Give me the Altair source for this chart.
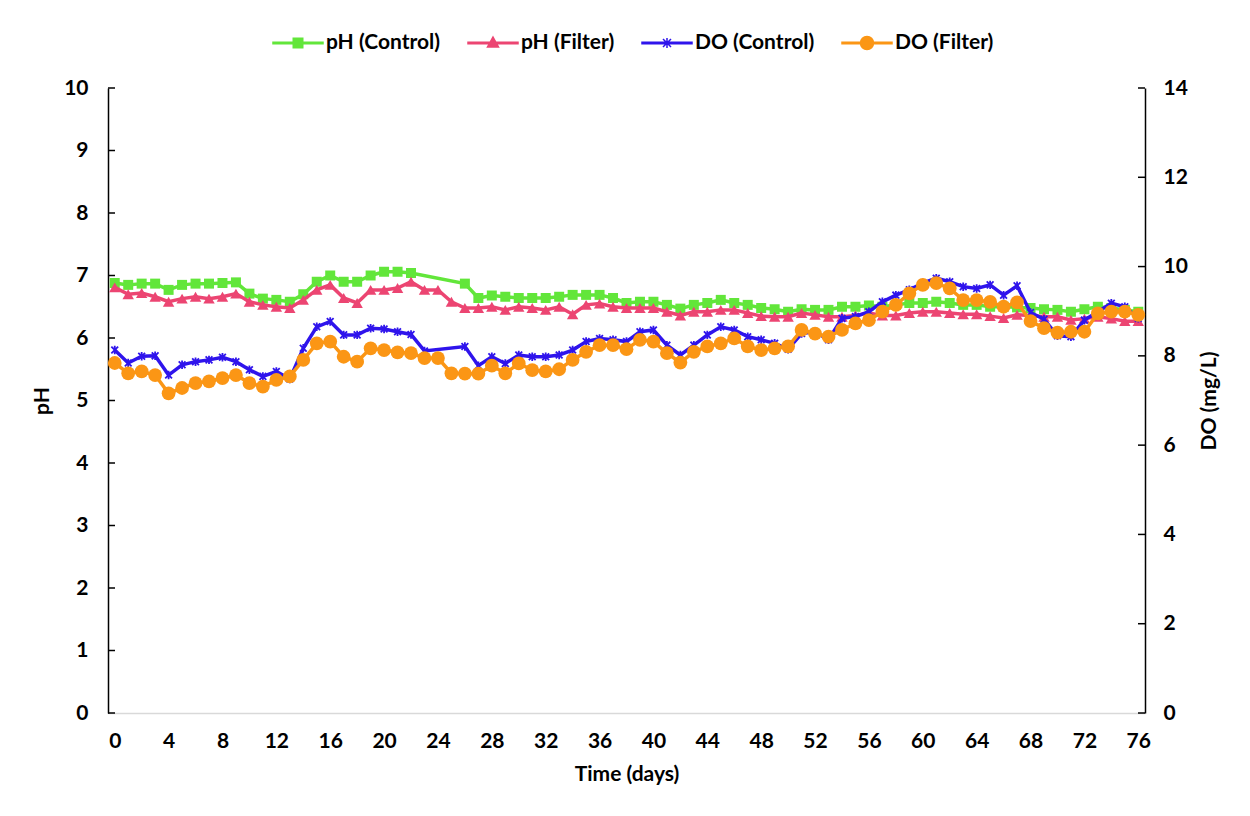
import altair as alt
import pandas as pd

days = list(range(77))

ph_control = [6.88, 6.85, 6.87, 6.87, 6.77, 6.85, 6.87, 6.87, 6.88, 6.89,
              6.71, 6.63, 6.61, 6.58, 6.70, 6.90, 7.00, 6.90, 6.90, 7.00,
              7.06, 7.06, 7.04, None, None, None, 6.87, 6.64, 6.68, 6.66,
              6.64, 6.64, 6.64, 6.66, 6.69, 6.69, 6.69, 6.64, 6.56, 6.58,
              6.58, 6.53, 6.47, 6.53, 6.56, 6.61, 6.56, 6.53, 6.48, 6.46,
              6.42, 6.46, 6.45, 6.45, 6.50, 6.50, 6.52, 6.50, 6.53, 6.56,
              6.56, 6.58, 6.56, 6.53, 6.53, 6.50, 6.50, 6.49, 6.48, 6.46,
              6.45, 6.42, 6.46, 6.50, 6.48, 6.45, 6.42]

ph_filter = [6.81, 6.70, 6.72, 6.66, 6.58, 6.63, 6.66, 6.63, 6.66, 6.71,
             6.58, 6.53, 6.50, 6.48, 6.61, 6.77, 6.85, 6.64, 6.56, 6.77,
             6.77, 6.80, 6.90, 6.77, 6.77, 6.58, 6.48, 6.48, 6.50, 6.45,
             6.50, 6.48, 6.45, 6.50, 6.38, 6.53, 6.55, 6.50, 6.48, 6.48,
             6.48, 6.42, 6.36, 6.42, 6.42, 6.45, 6.45, 6.40, 6.35, 6.34,
             6.34, 6.40, 6.37, 6.34, 6.34, 6.36, 6.40, 6.36, 6.36, 6.40,
             6.42, 6.42, 6.40, 6.38, 6.38, 6.35, 6.32, 6.37, 6.36, 6.34,
             6.34, 6.29, 6.31, 6.34, 6.31, 6.27, 6.27]

do_control = [8.13, 7.84, 7.99, 8.00, 7.57, 7.80, 7.87, 7.91, 7.97, 7.87,
              7.69, 7.54, 7.65, 7.48, 8.17, 8.65, 8.77, 8.47, 8.47, 8.62,
              8.60, 8.54, 8.48, 8.11, None, None, 8.21, 7.78, 7.98, 7.83,
              8.02, 7.98, 7.98, 8.02, 8.13, 8.32, 8.39, 8.36, 8.32, 8.54,
              8.58, 8.24, 8.02, 8.24, 8.47, 8.65, 8.58, 8.43, 8.36, 8.28,
              8.15, 8.50, 8.54, 8.36, 8.84, 8.88, 8.99, 9.21, 9.36, 9.48,
              9.63, 9.74, 9.66, 9.55, 9.51, 9.59, 9.36, 9.57, 8.97, 8.82,
              8.45, 8.43, 8.80, 8.99, 9.18, 9.10, 8.84]

do_filter = [7.84, 7.61, 7.65, 7.57, 7.16, 7.28, 7.39, 7.43, 7.50, 7.57,
             7.39, 7.31, 7.46, 7.54, 7.91, 8.28, 8.32, 7.98, 7.87, 8.17,
             8.13, 8.08, 8.06, 7.95, 7.95, 7.61, 7.60, 7.60, 7.78, 7.61,
             7.83, 7.68, 7.65, 7.70, 7.91, 8.09, 8.24, 8.24, 8.15, 8.36,
             8.32, 8.06, 7.85, 8.09, 8.21, 8.28, 8.39, 8.21, 8.13, 8.17,
             8.21, 8.58, 8.50, 8.43, 8.58, 8.73, 8.80, 8.99, 9.14, 9.40,
             9.59, 9.63, 9.51, 9.25, 9.25, 9.21, 9.10, 9.20, 8.78, 8.62,
             8.52, 8.54, 8.54, 8.95, 8.99, 8.99, 8.92]

series_names = ["pH (Control)", "pH (Filter)", "DO (Control)", "DO (Filter)"]
series_colors = ["#62e63a", "#ec4572", "#2f14ec", "#fb9615"]

x_ticks = list(range(0, 77, 4))
ph_ticks = list(range(0, 11))
do_ticks = list(range(0, 15, 2))

W, H = 1037, 625
FONT = "Lato"
FS = 21

STAR = "M-1,-1L1,1M-1,1L1,-1M0,-1.25L0,1.25"
LEG_LINE = "M-1,-0.03H1V0.03H-1Z"
legend_paths = [
    LEG_LINE + "M-0.19,-0.19H0.19V0.19H-0.19Z",
    LEG_LINE + "M0,-0.24L0.22,0.16H-0.22Z",
    LEG_LINE + "M-0.16,-0.16L0.16,0.16M-0.16,0.16L0.16,-0.16M0,-0.2V0.2",
    LEG_LINE + "M-0.26,0A0.26,0.26,0,1,1,0.26,0A0.26,0.26,0,1,1,-0.26,0Z",
]


def frame(values, name):
    df = pd.DataFrame({"day": days, "value": values, "series": name})
    df["value"] = pd.to_numeric(df["value"])
    return df.dropna()


x_enc = alt.X(
    "day:Q",
    scale=alt.Scale(domain=[-0.5, 76.5], nice=False, zero=False),
    axis=alt.Axis(values=x_ticks, title="Time (days)", grid=False, tickSize=0,
                  domainColor="#d9d9d9", domainWidth=1.5, labelPadding=17,
                  titlePadding=12, labelFlush=False),
)

ph_y = alt.Y(
    "value:Q",
    scale=alt.Scale(domain=[0, 10], nice=False, zero=False),
    axis=alt.Axis(values=ph_ticks, title="pH", orient="left", grid=False,
                  tickSize=0, domainColor="black", domainWidth=1.5,
                  labelPadding=20, titlePadding=11, labelFlush=False),
)

do_y = alt.Y(
    "value:Q",
    scale=alt.Scale(domain=[0, 14], nice=False, zero=False),
    axis=alt.Axis(values=do_ticks, title="DO (mg/L)", orient="right",
                  grid=False, tickSize=0, domainColor="black",
                  domainWidth=1.5, labelPadding=18, titlePadding=32,
                  titleAngle=270, labelFlush=False),
)


def series_layers(values, idx, y_enc, point_kwargs):
    base = alt.Chart(frame(values, series_names[idx]))
    line = base.mark_line(strokeWidth=3.5, color=series_colors[idx]).encode(
        x=x_enc, y=y_enc)
    pts = base.mark_point(color=series_colors[idx], opacity=1,
                          **point_kwargs).encode(x=x_enc, y=y_enc)
    return [line, pts]


ph_tick_df = pd.DataFrame({"value": ph_ticks})
do_tick_df = pd.DataFrame({"value": do_ticks})

ph_inner_ticks = alt.Chart(ph_tick_df).mark_rule(
    color="black", strokeWidth=1.5).encode(
    y=ph_y, x=alt.value(0), x2=alt.value(7))
do_inner_ticks = alt.Chart(do_tick_df).mark_rule(
    color="black", strokeWidth=1.5).encode(
    y=do_y, x=alt.value(W - 7), x2=alt.value(W))

ph_layer = alt.layer(
    ph_inner_ticks,
    *series_layers(ph_control, 0, ph_y,
                   dict(shape="square", filled=True, size=100)),
    *series_layers(ph_filter, 1, ph_y,
                   dict(shape="triangle-up", filled=True, size=130)),
)

do_layer = alt.layer(
    do_inner_ticks,
    *series_layers(do_control, 2, do_y,
                   dict(shape=STAR, filled=False, size=46, strokeWidth=1.8)),
    *series_layers(do_filter, 3, do_y,
                   dict(shape="circle", filled=True, size=190)),
)

legend_def = alt.Legend(
    title=None, orient="none", direction="horizontal", columns=4,
    legendX=164, legendY=-71, symbolSize=2500, symbolStrokeWidth=1.5,
    labelFont=FONT, labelFontSize=FS, labelFontWeight="bold",
    labelColor="black", labelOffset=2, columnPadding=24, symbolOpacity=1,
)

legend_layer = alt.Chart(pd.DataFrame({"series": series_names})).transform_filter(
    "false"
).mark_point(filled=True, strokeWidth=1.5, opacity=1).encode(
    fill=alt.Fill("series:N", scale=alt.Scale(domain=series_names, range=series_colors),
                  legend=legend_def),
    stroke=alt.Stroke("series:N", scale=alt.Scale(domain=series_names, range=series_colors),
                      legend=legend_def),
    shape=alt.Shape("series:N", scale=alt.Scale(domain=series_names, range=legend_paths),
                    legend=legend_def),
)

chart = alt.layer(ph_layer, do_layer, legend_layer).resolve_scale(
    y="independent"
).properties(
    width=W, height=H,
    autosize=alt.AutoSizeParams(type="none"),
    padding={"left": 100, "top": 80, "right": 96, "bottom": 94},
    background="white",
).configure_view(stroke=None).configure_axis(
    labelFont=FONT, labelFontSize=FS, labelFontWeight="bold", labelColor="black",
    titleFont=FONT, titleFontSize=FS, titleFontWeight="bold", titleColor="black",
)

chart.save("out.html", embed_options={"renderer": "svg", "actions": False})
